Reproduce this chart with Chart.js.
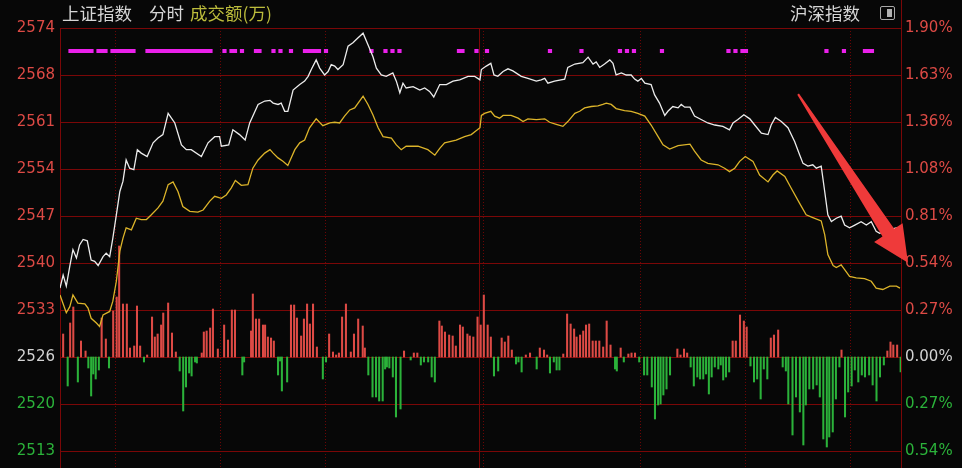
<!DOCTYPE html>
<html>
<head>
<meta charset="utf-8">
<script src="https://cdn.jsdelivr.net/npm/chart.js@4"></script>
<style>
html, body { margin: 0; padding: 0; background: #070707; }
#wrap { position: relative; width: 962px; height: 468px; overflow: hidden; background: #070707; }
#c { position: absolute; left: 0; top: 0; }
.t { position: absolute; top: 3px; font: 17.5px "Noto Sans CJK SC", sans-serif; color: #d6d6d6; line-height: 20px; white-space: nowrap; }
#icon { position: absolute; left: 880px; top: 6px; width: 13px; height: 12px; border: 1px solid #a8a8a8; border-radius: 2px; }
#icon div { position: absolute; right: 2px; top: 2px; width: 5px; height: 8px; background: #b0b0b0; }
</style>
</head>
<body>
<div id="wrap">
  <canvas id="c" width="962" height="468"></canvas>
  <div class="t" style="left:62px">上证指数</div>
  <div class="t" style="left:149px">分时</div>
  <div class="t" style="left:190px;color:#bcbc3c">成交额(万)</div>
  <div class="t" style="left:790px">沪深指数</div>
  <div id="icon"><div></div></div>
</div>
<script>
// previous close and the % step between grid lines
const basePrice = 2526.55;
const stepPct = 0.27143;

// tick labels, top to bottom
const priceLabels = ['2574', '2568', '2561', '2554', '2547', '2540', '2533', '2526', '2520', '2513'];
const pctLabels = ['1.90%', '1.63%', '1.36%', '1.08%', '0.81%', '0.54%', '0.27%', '0.00%', '0.27%', '0.54%'];

// [minute, index level]
const whiteLine = [
  [0,2536.6],[0.9,2538.5],[1.8,2536.9],[2.8,2539.8],[3.7,2542.2],[4.7,2541.0],[5.6,2542.9],[6.6,2543.7],[7.8,2543.5],[8.9,2540.7],
  [9.9,2540.5],[10.9,2539.9],[12.3,2541.2],[13.2,2541.7],[14.2,2541.2],[15.1,2543.9],[16.1,2547.3],[17.1,2550.7],[18,2552.2],[18.9,2555.3],
  [19.9,2554.1],[21.1,2553.9],[22.1,2556.8],[23.2,2556.3],[24.9,2555.8],[26.6,2557.8],[28,2558.5],[29.4,2559.0],[30.9,2562.1],[32.8,2560.7],
  [34.7,2557.5],[36.1,2556.8],[37.5,2556.8],[40.4,2555.8],[42.3,2557.8],[44.2,2558.7],[45.6,2558.7],[46.1,2557.3],[48.2,2557.5],[49.4,2559.7],
  [51.3,2559.0],[52.9,2558.2],[54.2,2560.7],[56.6,2563.4],[58.5,2563.9],[60,2564.0],[60.9,2563.6],[62.3,2563.4],[63.2,2563.6],[64.2,2562.4],
  [65.1,2562.4],[66.6,2565.5],[68.5,2566.3],[69.9,2566.8],[70.9,2567.5],[71.8,2568.5],[73.2,2569.9],[74.2,2568.7],[75.6,2567.7],[76.6,2568.2],
  [77.5,2569.2],[78.5,2569.0],[79.4,2568.5],[80.9,2569.2],[82.3,2571.9],[83.7,2572.4],[85.1,2573.1],[86.6,2573.8],[88,2572.1],[89.4,2570.4],
  [90.4,2568.7],[91.8,2567.7],[93.2,2567.5],[95.1,2568.0],[96.1,2566.8],[97.1,2565.1],[98,2566.5],[98.9,2565.8],[100.9,2566.0],[102.8,2565.5],
  [104.2,2565.8],[105.6,2565.3],[106.8,2564.5],[108.5,2566.3],[110.4,2566.3],[112.3,2566.8],[114.2,2567.0],[116.6,2567.5],[118.5,2567.5],[120,2567.0],
  [120.4,2568.5],[121.8,2569.0],[123.1,2569.4],[124,2567.7],[125.1,2567.5],[126.6,2568.2],[128,2568.6],[129.4,2568.3],[131.8,2567.5],[133.7,2567.2],
  [136.1,2566.8],[137.5,2567.0],[138.5,2567.2],[139.4,2566.5],[141.3,2566.8],[144.2,2567.1],[145.1,2568.8],[147.1,2569.3],[149.4,2569.5],[150.9,2570.3],
  [152.3,2569.3],[153.2,2569.6],[154.2,2568.8],[155.6,2569.3],[157.1,2569.9],[158,2569.4],[158.9,2567.7],[160.4,2568.0],[161.8,2567.7],[163.2,2567.7],
  [164.2,2567.1],[165.1,2566.8],[166.1,2567.2],[167.1,2566.5],[168.9,2566.3],[169.9,2564.8],[171.3,2563.6],[172.8,2561.8],[173.7,2562.4],[175.1,2563.1],
  [176.6,2562.9],[177.5,2563.4],[178.5,2563.0],[180,2563.0],[181.3,2561.7],[183.2,2561.2],[185.1,2560.7],[187.1,2560.4],[189.4,2560.2],[191.3,2559.7],
  [192.3,2560.7],[193.7,2561.2],[195.4,2561.9],[197.1,2561.3],[198.5,2560.4],[200.4,2559.2],[202.3,2559.0],[203.2,2560.4],[204.4,2561.5],[206.1,2560.9],
  [208,2560.0],[209.9,2558.0],[211.3,2556.1],[212.3,2554.8],[213.7,2554.4],[215.1,2554.6],[216.1,2554.1],[217.5,2554.4],[218.5,2550.7],[219.4,2547.3],
  [220.4,2546.3],[221.8,2546.8],[223.2,2547.1],[224.2,2545.8],[225.6,2545.4],[227.1,2545.8],[228.9,2546.3],[230.4,2545.8],[231.8,2546.3],[233.2,2544.9],
  [234.2,2544.6],[236.6,2545.1],[239,2545.4],[240,2545.4]
];

const yellowLine = [
  [0,2535.6],[1.8,2533.0],[2.8,2533.9],[3.7,2535.6],[5.1,2534.4],[7.1,2534.3],[8,2533.7],[8.9,2532.2],[10.4,2531.5],[11.3,2531.0],
  [12.3,2532.7],[14.2,2533.2],[15.1,2534.7],[16.1,2537.6],[17.1,2542.0],[18,2543.9],[18.9,2545.4],[20.4,2545.1],[21.8,2546.8],[23.2,2546.6],
  [24.7,2546.6],[26.1,2547.3],[28,2548.3],[29.4,2549.3],[30.9,2551.7],[32.3,2552.1],[33.7,2550.7],[35.1,2548.5],[37.1,2547.8],[39.4,2547.7],
  [40.9,2548.0],[42.8,2549.3],[44.2,2550.0],[46.1,2549.7],[47.5,2550.2],[48.9,2551.2],[50.1,2552.3],[51.8,2551.6],[53.7,2551.7],[55.1,2554.1],
  [56.6,2555.3],[58.5,2556.3],[60,2556.8],[60.9,2556.3],[62.3,2555.6],[63.7,2555.1],[65.1,2554.5],[67.1,2556.8],[68.5,2557.8],[69.9,2558.2],
  [71.3,2560.0],[73.2,2561.3],[75.1,2560.3],[77.1,2560.7],[78.5,2560.8],[79.9,2560.7],[81.3,2561.7],[82.8,2562.6],[84.2,2562.9],[86.6,2564.6],
  [88,2563.4],[89.4,2561.9],[90.9,2560.0],[92.3,2558.7],[94.7,2558.5],[96.1,2557.5],[97.5,2556.8],[98.9,2557.3],[102.3,2557.3],[105.1,2556.8],
  [107.1,2556.0],[108.5,2557.0],[109.9,2557.8],[113.2,2558.2],[115.6,2558.7],[117.5,2559.0],[120,2560.0],[120.4,2561.8],[121.3,2562.1],[123.1,2562.4],
  [124.2,2561.7],[125.6,2561.4],[126.6,2561.8],[128.9,2561.8],[130.9,2561.4],[132.3,2560.9],[133.7,2561.3],[136.1,2561.2],[138.5,2561.3],[139.9,2560.8],
  [141.8,2560.5],[143.7,2560.2],[145.1,2560.9],[147.1,2562.1],[148.5,2562.4],[149.9,2562.9],[151.8,2563.1],[153.7,2563.2],[155.1,2563.4],[156.1,2563.6],
  [157.5,2563.4],[158.9,2562.8],[161.3,2562.5],[163.2,2562.4],[165.1,2562.1],[167.1,2561.7],[168.9,2560.4],[170.9,2558.7],[172.3,2557.5],[174.2,2556.9],
  [176.6,2557.4],[180,2557.6],[181.3,2556.6],[183.2,2555.3],[185.1,2554.8],[188,2554.6],[189.9,2554.1],[191.3,2553.6],[192.8,2554.1],[194.2,2555.1],
  [195.8,2555.8],[198,2555.1],[199.9,2553.1],[202.3,2552.1],[203.7,2553.1],[204.9,2553.7],[207.1,2552.9],[208.9,2551.2],[211.3,2549.0],[213.2,2547.3],
  [215.1,2546.9],[217.5,2546.4],[218.5,2544.4],[219.4,2541.5],[220.9,2539.9],[221.8,2539.6],[223.2,2540.0],[224.2,2539.3],[225.6,2538.3],[227.5,2538.1],
  [229.9,2538.0],[231.8,2537.6],[233.2,2536.6],[235.1,2536.4],[237.1,2536.9],[239,2536.9],[240,2536.6]
];

// [minute, bar value] red up / green down
const flowBars = [
  [0.9,23],[2.2,-29],[2.9,34],[3.8,50],[5.1,-25],[6.0,16],[7.3,6],[8.1,-11],[8.9,-39],[9.5,-17],
  [10.2,-22],[11.1,-13],[11.9,39],[13.1,18],[14.0,-11],[15.2,46],[16.2,60],[16.9,111],[18.0,53],[19.1,53],
  [20.0,9],[21.2,11],[22.0,51],[22.9,11],[24.0,-5],[24.9,2],[26.3,40],[27.1,20],[27.9,23],[28.9,32],
  [29.5,44],[30.9,54],[32.0,24],[33.1,5],[34.2,-14],[35.2,-54],[36.0,-30],[36.9,-16],[37.6,-19],[38.6,-5],
  [39.1,-6],[40.5,4],[41.1,25],[41.9,26],[42.9,29],[43.7,48],[45.1,8],[46.9,32],[48.0,17],[49.1,47],
  [50.0,47],[52.1,-18],[52.6,-5],[54.6,26],[55.1,63],[56.0,38],[56.9,38],[58.0,32],[58.6,32],[59.4,20],
  [60.3,19],[61.1,16],[62.3,-18],[62.9,-4],[63.4,-34],[64.9,-25],[66.0,52],[66.9,52],[67.7,39],[68.9,21],
  [69.7,38],[70.6,53],[71.4,33],[72.3,53],[73.4,10],[75.1,-22],[76.0,-5],[76.9,23],[78.0,5],[78.9,2],
  [79.7,4],[80.6,40],[81.7,53],[83.1,5],[84.0,23],[85.2,38],[86.5,31],[87.1,9],[88.1,-18],[89.3,-40],
  [90.3,-40],[91.2,-44],[92.2,-44],[92.9,-12],[93.4,-10],[94.1,-11],[95.1,-20],[96.0,-60],[97.3,-52],[98.3,6],
  [100.2,-3],[101.1,4],[102.1,4],[103.1,-8],[104.0,-5],[105.2,-5],[106.2,-20],[107.1,-25],[108.4,36],[109.1,31],
  [110.0,25],[111.2,22],[112.2,21],[113.1,11],[114.3,32],[115.1,30],[116.4,23],[117.1,21],[118.1,20],[119.3,40],
  [120.2,32],[121.1,62],[122.2,32],[123.1,20],[124.0,-19],[125.2,-14],[126.2,19],[127.1,15],[128.1,21],[129.1,7],
  [130.3,-7],[131.0,-5],[131.9,-15],[133.1,2],[134.3,4],[136.2,-12],[137.1,9],[138.3,7],[139.2,2],[140.0,-16],
  [141.1,-5],[141.9,-13],[142.7,-13],[143.8,3],[144.9,43],[145.9,33],[146.9,28],[147.6,20],[148.6,22],[149.5,26],
  [150.3,32],[151.2,33],[152.2,16],[153.1,16],[154.1,16],[155.2,10],[156.2,36],[157.3,12],[158.6,-12],[159.1,-14],
  [160.2,9],[161.1,-5],[162.4,3],[163.3,4],[164.3,4],[165.5,-5],[166.9,-18],[167.8,-18],[169.1,-30],[170.0,-62],
  [170.9,-48],[171.6,-47],[172.4,-38],[173.3,-32],[174.3,-18],[176.4,8],[177.3,2],[178.3,8],[179.2,4],[180.2,-10],
  [181.1,-29],[182.1,-20],[182.9,-22],[183.8,-22],[184.6,-17],[185.4,-37],[186.2,-20],[187.1,-10],[188.1,-12],[188.8,-8],
  [189.5,-23],[190.3,-20],[191.2,-15],[192.2,16],[193.1,16],[194.3,42],[195.4,36],[196.2,30],[197.3,-9],[198.3,-25],
  [199.2,-22],[200.2,-42],[201.1,-12],[202.1,-22],[203.1,19],[204.0,22],[205.2,27],[206.5,-10],[207.4,-14],[208.1,-47],
  [209.3,-78],[210.3,-40],[211.4,-55],[212.4,-88],[213.1,-48],[214.1,-32],[215.2,-32],[216.2,-28],[217.1,-40],[218.1,-82],
  [219.1,-90],[219.8,-80],[220.8,-75],[221.7,-42],[222.7,-10],[223.3,7],[224.3,-60],[225.2,-35],[226.2,-29],[227.1,-13],
  [228.1,-25],[229.1,-18],[230.0,-20],[231.2,-18],[232.2,-28],[233.3,-44],[234.3,-20],[235.4,-8],[236.4,6],[237.3,15],
  [238.1,12],[239.2,12],[240.2,-15]
];

// minutes flagged with a magenta marker, [first, last]
const markerSpans = [
  [3,9],[11,13],[15,21],[25,43],[47,47],[49,50],[52,52],[56,57],[61,61],[63,63],[66,66],[70,74],[76,76],
  [89,89],[93,93],[95,95],[97,97],[114,115],[119,119],[122,122],[140,140],[149,149],[160,160],[162,162],
  [164,164],[172,172],[191,191],[193,193],[195,196],[219,219],[224,224],[230,232]
];

// half-hour grid lines (dotted) and the lunch break line (solid), in minutes
const halfHourMinutes = [31, 61, 91, 151, 181, 211];
const lunchMinute = [120];

const gridRed = '#7a0707';
const upRed = '#dd4a45';
const downGreen = '#2bb23a';
const flatGray = '#d2d2d2';

const step = basePrice * stepPct / 100;
const yMax = basePrice + 7 * step;
const yMin = basePrice - 2.3617 * step;
const tickValues = [];
for (let k = -2; k <= 7; k++) tickValues.push(basePrice + k * step);

function tickColor(index) {
    const k = index - 2;
    return k > 0 ? upRed : (k === 0 ? flatGray : downGreen);
}

const markerLevel = 306;
const markerData = [];
markerSpans.forEach(([a, b]) => {
    markerData.push({ x: a - 0.6, y: markerLevel }, { x: b + 0.6, y: markerLevel }, { x: b + 0.6, y: null });
});

// arrow drawn on top, ends given in chart values
const arrowFrom = [210.9, 2564.9];
const arrowTo = [242.3, 2540.3];

const overlay = {
    id: 'overlay',
    afterDatasetsDraw(chart) {
        const { ctx, chartArea, scales } = chart;
        ctx.save();
        ctx.strokeStyle = gridRed;
        ctx.lineWidth = 1;
        ctx.beginPath();
        ctx.moveTo(Math.round(chartArea.right) + 0.5, 0);
        ctx.lineTo(Math.round(chartArea.right) + 0.5, chart.height);
        ctx.stroke();

        const x0 = scales.x.getPixelForValue(arrowFrom[0]);
        const y0 = scales.y.getPixelForValue(arrowFrom[1]);
        const x1 = scales.x.getPixelForValue(arrowTo[0]);
        const y1 = scales.y.getPixelForValue(arrowTo[1]);
        const len = Math.hypot(x1 - x0, y1 - y0);
        const ux = (x1 - x0) / len, uy = (y1 - y0) / len;
        const px = -uy, py = ux;
        const bx = x1 - 36 * ux, by = y1 - 36 * uy;
        const pts = [
            [x0 + px * 1, y0 + py * 1],
            [bx + px * 7, by + py * 7],
            [bx + px * 17, by + py * 17],
            [x1, y1],
            [bx - px * 17, by - py * 17],
            [bx - px * 7, by - py * 7],
            [x0 - px * 1, y0 - py * 1]
        ];
        ctx.fillStyle = '#ef3a3a';
        ctx.beginPath();
        pts.forEach(([x, y], i) => i ? ctx.lineTo(x, y) : ctx.moveTo(x, y));
        ctx.closePath();
        ctx.fill();
        ctx.restore();
    }
};

const tickFont = { family: 'DejaVu Sans', size: 15 };

new Chart(document.getElementById('c'), {
    type: 'line',
    data: {
        datasets: [
            {
                label: '上证指数',
                data: whiteLine.map(([x, y]) => ({ x, y })),
                yAxisID: 'y',
                borderColor: '#ececec',
                borderWidth: 1.3,
                pointRadius: 0,
                tension: 0,
                order: 0
            },
            {
                label: '均线',
                data: yellowLine.map(([x, y]) => ({ x, y })),
                yAxisID: 'y',
                borderColor: '#dcb42a',
                borderWidth: 1.3,
                pointRadius: 0,
                tension: 0,
                order: 1
            },
            {
                label: '标记',
                data: markerData,
                yAxisID: 'yv',
                borderColor: '#ea20ea',
                borderWidth: 4,
                borderCapStyle: 'butt',
                pointRadius: 0,
                spanGaps: false,
                order: 2
            },
            {
                type: 'bar',
                label: '成交额',
                data: flowBars.map(([x, y]) => ({ x, y })),
                yAxisID: 'yv',
                barThickness: 1.4,
                backgroundColor: c => (c.raw && c.raw.y < 0 ? downGreen : upRed),
                order: 3
            }
        ]
    },
    options: {
        responsive: false,
        animation: false,
        devicePixelRatio: 1,
        layout: { padding: { top: 28, left: 0, right: 0, bottom: 0 } },
        plugins: { legend: { display: false }, tooltip: { enabled: false } },
        scales: {
            x: {
                type: 'linear', min: 0, max: 240.3, bounds: 'data', offset: false,
                afterBuildTicks: s => { s.ticks = halfHourMinutes.map(v => ({ value: v })); },
                afterFit: s => { s.height = 0; },
                ticks: { display: false },
                grid: { color: '#6a0505', drawTicks: false, lineWidth: 1 },
                border: { display: false, dash: [1, 2] }
            },
            x2: {
                type: 'linear', axis: 'x', position: 'bottom', min: 0, max: 240.3, bounds: 'data', offset: false,
                afterBuildTicks: s => { s.ticks = lunchMinute.map(v => ({ value: v })); },
                afterFit: s => { s.height = 0; },
                ticks: { display: false },
                grid: { color: gridRed, drawTicks: false, lineWidth: 1 },
                border: { display: false }
            },
            y: {
                type: 'linear', position: 'left', min: yMin, max: yMax, bounds: 'data',
                afterBuildTicks: s => { s.ticks = tickValues.map(v => ({ value: v })); },
                afterFit: s => { s.width = 60; s.paddingTop = 0; s.paddingBottom = 0; },
                ticks: {
                    autoSkip: false, padding: 5, font: tickFont,
                    color: c => tickColor(c.index),
                    callback: (v, i) => priceLabels[priceLabels.length - 1 - i]
                },
                grid: { color: gridRed, drawTicks: false, lineWidth: 1 },
                border: { color: gridRed, width: 1 }
            },
            yr: {
                type: 'linear', position: 'right', min: yMin, max: yMax, bounds: 'data',
                afterBuildTicks: s => { s.ticks = tickValues.map(v => ({ value: v })); },
                afterFit: s => { s.width = 61; s.paddingTop = 0; s.paddingBottom = 0; },
                ticks: {
                    autoSkip: false, padding: 4, font: tickFont,
                    color: c => tickColor(c.index),
                    callback: (v, i) => pctLabels[pctLabels.length - 1 - i]
                },
                grid: { display: false, drawTicks: false },
                border: { color: gridRed, width: 1 }
            },
            yv: {
                type: 'linear', display: false, min: -111, max: 329
            }
        }
    },
    plugins: [overlay]
});
</script>
</body>
</html>
